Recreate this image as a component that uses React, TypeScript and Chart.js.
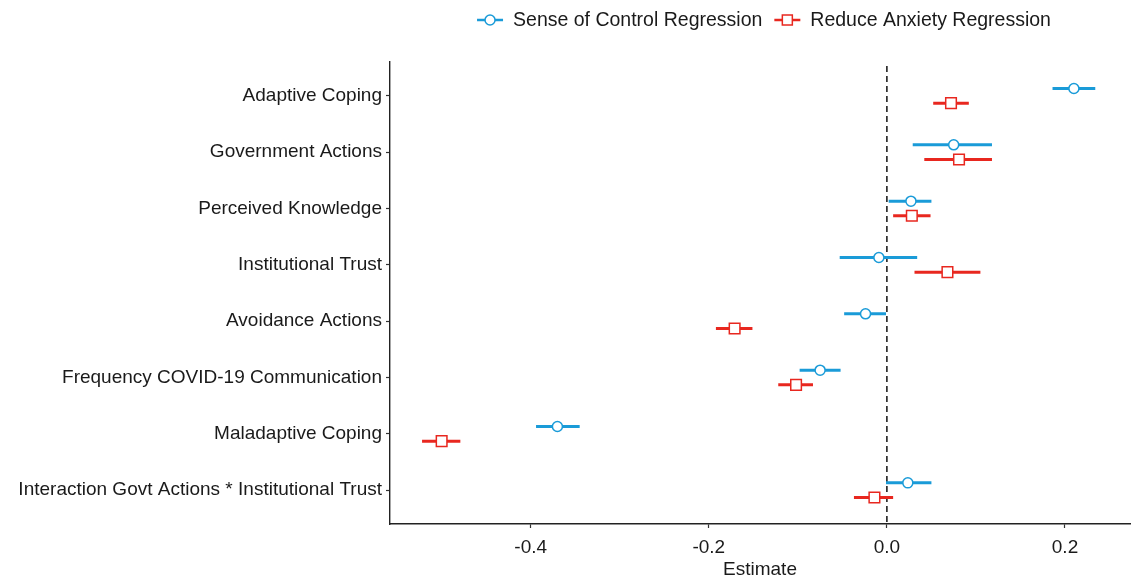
import React, { useEffect, useRef } from "react";
import { Chart, registerables } from "chart.js";

Chart.register(...registerables);

const categories = [
  "Adaptive Coping",
  "Government Actions",
  "Perceived Knowledge",
  "Institutional Trust",
  "Avoidance Actions",
  "Frequency COVID-19 Communication",
  "Maladaptive Coping",
  "Interaction Govt Actions * Institutional Trust",
];

const seriesNames = ["Sense of Control Regression", "Reduce Anxiety Regression"];

const socEst = [0.21, 0.075, 0.027, -0.009, -0.024, -0.075, -0.37, 0.0235];
const socLow = [0.186, 0.029, 0.002, -0.053, -0.048, -0.098, -0.394, -0.001];
const socHigh = [0.234, 0.118, 0.05, 0.034, -0.001, -0.052, -0.345, 0.05];

const raEst = [0.072, 0.081, 0.028, 0.068, -0.171, -0.102, -0.5, -0.014];
const raLow = [0.052, 0.042, 0.007, 0.031, -0.192, -0.122, -0.522, -0.037];
const raHigh = [0.092, 0.118, 0.049, 0.105, -0.151, -0.083, -0.479, 0.007];

const xTicks = [-0.4, -0.2, 0, 0.2];
const refLineValue = 0;

const BLUE = "#1a9bd8";
const RED = "#e8271f";
const TEXT = "#1a1a1a";
const FONT = "'Liberation Sans', Arial, Helvetica, sans-serif";
const DODGE = 0.13;

const errorBarPlugin = {
  id: "errorBars",
  beforeDatasetsDraw(chart: any) {
    const { ctx, chartArea } = chart;
    const xs = chart.scales.x;
    const ys = chart.scales.y;
    const x0 = xs.getPixelForValue(refLineValue);
    ctx.save();
    ctx.strokeStyle = "#000";
    ctx.lineWidth = 1.4;
    ctx.setLineDash([6, 4]);
    ctx.beginPath();
    ctx.moveTo(x0, chartArea.top + 4);
    ctx.lineTo(x0, chartArea.bottom);
    ctx.stroke();
    ctx.setLineDash([]);
    const series = [
      { low: socLow, high: socHigh, off: -DODGE, color: BLUE },
      { low: raLow, high: raHigh, off: DODGE, color: RED },
    ];
    ctx.lineWidth = 3;
    ctx.lineCap = "butt";
    for (const s of series) {
      ctx.strokeStyle = s.color;
      for (let i = 0; i < categories.length; i++) {
        const y = ys.getPixelForValue(i + s.off);
        ctx.beginPath();
        ctx.moveTo(xs.getPixelForValue(s.low[i]), y);
        ctx.lineTo(xs.getPixelForValue(s.high[i]), y);
        ctx.stroke();
      }
    }
    ctx.restore();
  },
};

const legendPlugin = {
  id: "customLegend",
  afterDraw(chart: any) {
    const { ctx, chartArea } = chart;
    const fontSize = 19.5;
    ctx.save();
    ctx.font = `${fontSize}px ${FONT}`;
    const items = chart.data.datasets.map((d: any) => ({
      label: d.label,
      color: d.borderColor,
      style: d.pointStyle,
    }));
    const keyW = 26;
    const keyGap = 10;
    const itemGap = 12;
    const widths = items.map((it: any) => keyW + keyGap + ctx.measureText(it.label).width);
    const total = widths.reduce((a: number, b: number) => a + b, 0) + itemGap * (items.length - 1);
    let x = (chartArea.left + chartArea.right) / 2 + 4 - total / 2;
    const y = 20;
    items.forEach((it: any, i: number) => {
      ctx.strokeStyle = it.color;
      ctx.lineWidth = 2.5;
      ctx.beginPath();
      ctx.moveTo(x, y);
      ctx.lineTo(x + keyW, y);
      ctx.stroke();
      const cx = x + keyW / 2;
      ctx.fillStyle = "#fff";
      ctx.lineWidth = 1.5;
      if (it.style === "circle") {
        ctx.beginPath();
        ctx.arc(cx, y, 5, 0, Math.PI * 2);
        ctx.fill();
        ctx.stroke();
      } else {
        ctx.fillRect(cx - 5, y - 5, 10, 10);
        ctx.strokeRect(cx - 5, y - 5, 10, 10);
      }
      ctx.fillStyle = TEXT;
      ctx.textBaseline = "middle";
      ctx.textAlign = "left";
      ctx.fillText(it.label, x + keyW + keyGap, y + 1);
      x += widths[i] + itemGap;
    });
    ctx.restore();
  },
};

export default function App() {
  const canvasRef = useRef<HTMLCanvasElement | null>(null);

  useEffect(() => {
    if (!canvasRef.current) return;
    const chart = new Chart(canvasRef.current, {
      type: "scatter",
      data: {
        datasets: [
          {
            label: seriesNames[0],
            data: socEst.map((v, i) => ({ x: v, y: i - DODGE })),
            pointStyle: "circle",
            pointRadius: 5,
            pointBorderWidth: 1.5,
            borderColor: BLUE,
            backgroundColor: "#ffffff",
          },
          {
            label: seriesNames[1],
            data: raEst.map((v, i) => ({ x: v, y: i + DODGE })),
            pointStyle: "rect",
            pointRadius: 7.5,
            pointBorderWidth: 1.5,
            borderColor: RED,
            backgroundColor: "#ffffff",
          },
        ],
      },
      options: {
        responsive: false,
        animation: false,
        devicePixelRatio: 1,
        layout: { padding: { top: 62, right: 6, left: 0, bottom: 0 } },
        plugins: {
          legend: { display: false },
          tooltip: { enabled: false },
        },
        scales: {
          x: {
            type: "linear",
            min: -0.558,
            max: 0.273,
            afterBuildTicks: (scale: any) => {
              scale.ticks = xTicks.map((v) => ({ value: v }));
            },
            afterFit: (scale: any) => {
              scale.height = 55;
              scale.paddingLeft = 0;
              scale.paddingRight = 0;
            },
            grid: {
              display: true,
              drawOnChartArea: false,
              drawTicks: true,
              tickLength: 4,
              tickColor: "#333",
              tickWidth: 1.2,
            },
            border: { display: true, color: "#222", width: 1.4 },
            ticks: {
              color: TEXT,
              font: { family: FONT, size: 19 },
              padding: 8,
              maxRotation: 0,
              callback: (v: any) => Number(v).toFixed(1),
            },
            title: {
              display: true,
              text: "Estimate",
              color: TEXT,
              font: { family: FONT, size: 19 },
              padding: { top: 0, bottom: -2 },
            },
          },
          y: {
            type: "linear",
            reverse: true,
            min: -0.6,
            max: 7.6,
            afterBuildTicks: (scale: any) => {
              scale.ticks = categories.map((_, i) => ({ value: i }));
            },
            afterFit: (scale: any) => {
              scale.width = 390;
              scale.paddingTop = 0;
              scale.paddingBottom = 0;
            },
            grid: {
              display: true,
              drawOnChartArea: false,
              drawTicks: true,
              tickLength: 4,
              tickColor: "#333",
              tickWidth: 1.2,
            },
            border: { display: true, color: "#222", width: 1.4 },
            ticks: {
              color: TEXT,
              font: { family: FONT, size: 19 },
              padding: 4,
              autoSkip: false,
              callback: (v: any) => categories[Math.round(Number(v))] ?? "",
            },
          },
        },
      },
      plugins: [errorBarPlugin, legendPlugin],
    });
    return () => chart.destroy();
  }, []);

  return (
    <div style={{ position: "absolute", left: 0, top: 0, width: 1139, height: 579, background: "#fff" }}>
      <canvas ref={canvasRef} width={1139} height={579} style={{ width: 1139, height: 579, display: "block" }} />
    </div>
  );
}
